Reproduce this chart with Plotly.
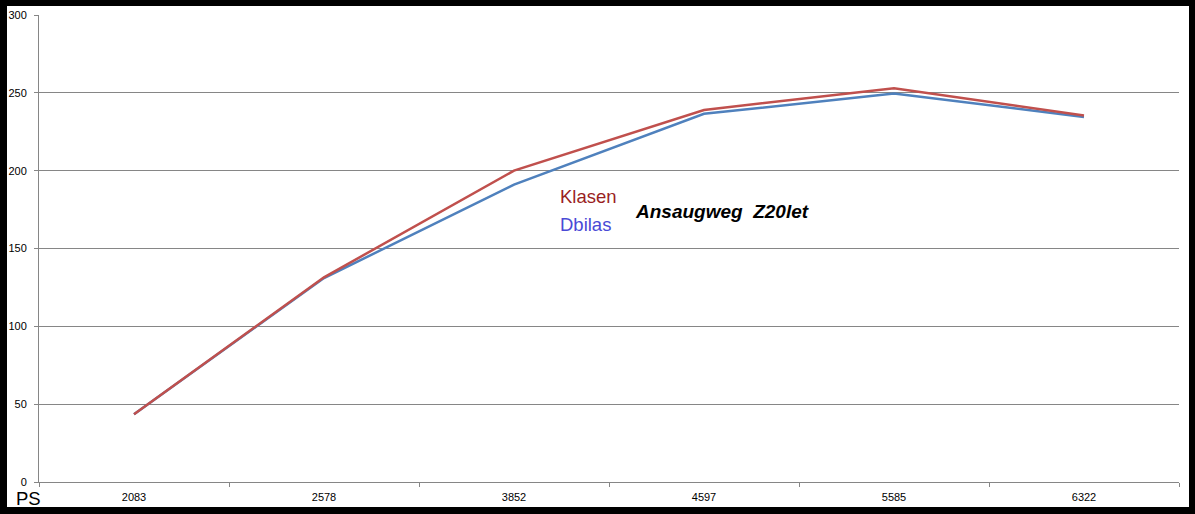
import plotly.graph_objects as go

categories = ["2083", "2578", "3852", "4597", "5585", "6322"]
klasen = [43.5, 131.5, 200, 239, 253, 235.5]
dbilas = [43.5, 131, 191, 236.5, 249.5, 234.5]
y_ticks = [0, 50, 100, 150, 200, 250, 300]

W, H = 1195, 514
L, R, T, B = 39, 1179, 15, 482
pw, ph = R - L, B - T

def px(x):
    return (x - L) / pw

def py(y):
    return (B - y) / ph

fig = go.Figure()
fig.add_trace(go.Scatter(x=categories, y=dbilas, mode="lines", name="Dbilas",
                         line=dict(color="#4F81BD", width=2.5)))
fig.add_trace(go.Scatter(x=categories, y=klasen, mode="lines", name="Klasen",
                         line=dict(color="#C0504D", width=2.5)))

fig.update_layout(
    template="none",
    width=W, height=H,
    margin=dict(l=L, r=W - R, t=T, b=H - B, pad=0, autoexpand=False),
    paper_bgcolor="black",
    plot_bgcolor="white",
    showlegend=False,
    font=dict(family="Liberation Sans, Arial", color="black"),
    shapes=[dict(type="rect", xref="paper", yref="paper",
                 x0=px(7), x1=px(1189), y0=py(507), y1=py(6),
                 fillcolor="white", line=dict(width=0), layer="below")],
    xaxis=dict(type="category", categoryorder="array", categoryarray=categories,
               range=[-0.5, 5.5], tickson="boundaries", ticks="outside", ticklen=4,
               tickcolor="#868686", showline=True, linecolor="#868686", linewidth=1,
               showgrid=False, zeroline=False, tickfont=dict(size=11, color="black"),
               ticklabelstandoff=5, automargin=False),
    yaxis=dict(range=[0, 300], tickvals=y_ticks, ticks="outside", ticklen=4,
               tickcolor="#868686", showline=True, linecolor="#868686", linewidth=1,
               showgrid=True, gridcolor="#868686", gridwidth=1, zeroline=False,
               tickfont=dict(size=11, color="black"), ticklabelstandoff=5,
               automargin=False),
    annotations=[
        dict(text="Klasen", xref="paper", yref="paper", x=px(558), y=py(197),
             xanchor="left", yanchor="middle", showarrow=False,
             font=dict(size=18.5, color="#9A1F1F")),
        dict(text="Dbilas", xref="paper", yref="paper", x=px(558), y=py(224),
             xanchor="left", yanchor="middle", showarrow=False,
             font=dict(size=18.5, color="#4A4AD6")),
        dict(text="<b><i>Ansaugweg\u00a0 Z20let</i></b>", xref="paper", yref="paper",
             x=px(633), y=py(212), xanchor="left", yanchor="middle", showarrow=False,
             font=dict(size=19, color="black")),
        dict(text="PS", xref="paper", yref="paper", x=px(14), y=py(498),
             xanchor="left", yanchor="middle", showarrow=False,
             font=dict(size=18.5, color="black")),
    ],
)

fig.write_html("out.html", config={"displayModeBar": False},
               post_script="document.body.style.margin='0';document.body.style.overflow='hidden';")
